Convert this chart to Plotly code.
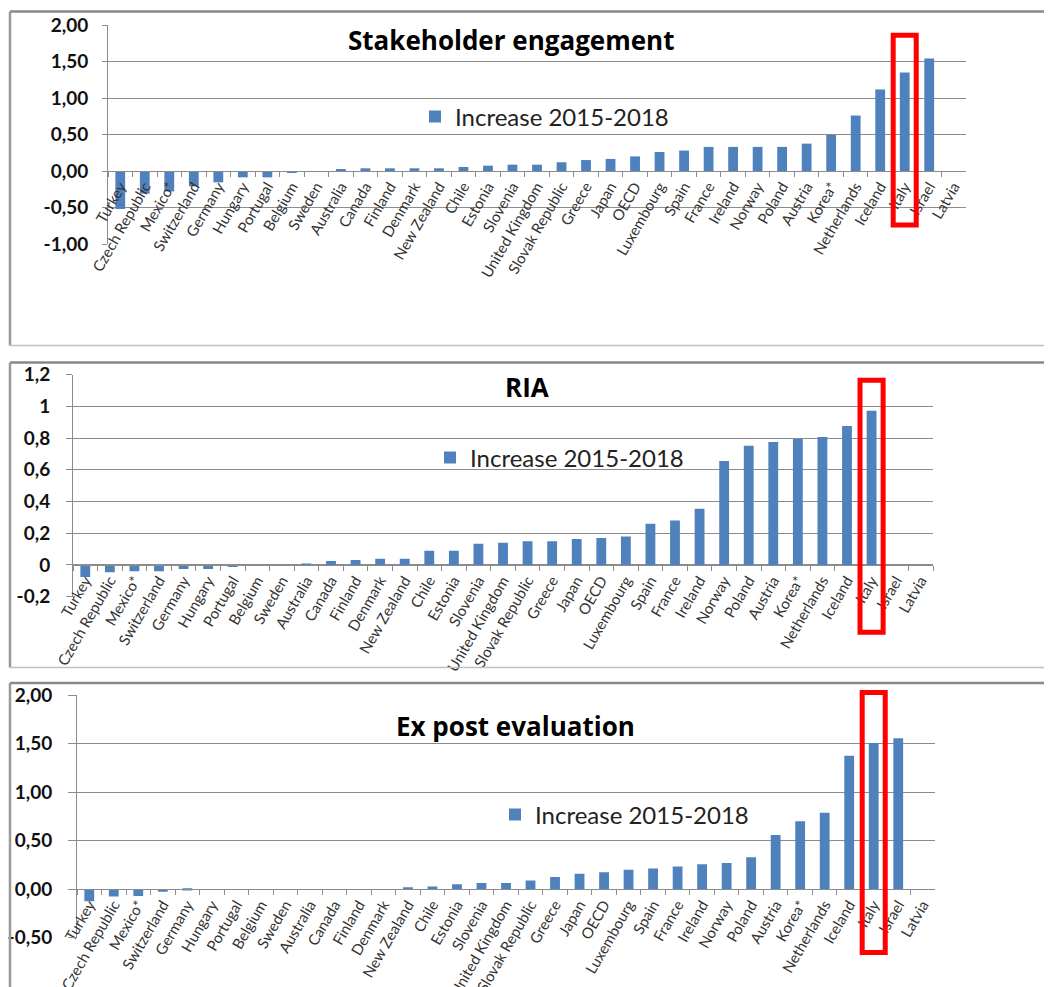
import plotly.graph_objects as go

W, H = 1052, 987
OFF = 8  # default body margin of the html page

countries = [
    "Turkey", "Czech Republic", "Mexico*", "Switzerland", "Germany", "Hungary",
    "Portugal", "Belgium", "Sweden", "Australia", "Canada", "Finland", "Denmark",
    "New Zealand", "Chile", "Estonia", "Slovenia", "United Kingdom",
    "Slovak Republic", "Greece", "Japan", "OECD", "Luxembourg", "Spain", "France",
    "Ireland", "Norway", "Poland", "Austria", "Korea*", "Netherlands", "Iceland",
    "Italy", "Israel", "Latvia",
]

stakeholder_increase = [
    -0.52, -0.31, -0.28, -0.21, -0.155, -0.087, -0.087, -0.023, 0, 0.023, 0.037,
    0.037, 0.037, 0.037, 0.055, 0.073, 0.087, 0.087, 0.12, 0.15, 0.165, 0.2,
    0.26, 0.28, 0.33, 0.33, 0.33, 0.33, 0.375, 0.494, 0.76, 1.117, 1.35, 1.54, None,
]
ria_increase = [
    -0.076, -0.046, -0.04, -0.04, -0.025, -0.025, -0.013, 0, 0, 0.01, 0.025,
    0.032, 0.04, 0.04, 0.09, 0.09, 0.134, 0.14, 0.15, 0.15, 0.164, 0.17, 0.18,
    0.26, 0.28, 0.355, 0.655, 0.752, 0.775, 0.796, 0.807, 0.876, 0.973, None, None,
]
ex_post_increase = [
    -0.124, -0.076, -0.069, -0.027, -0.014, 0, 0, 0, 0, 0, 0, 0, 0, 0.017, 0.027,
    0.052, 0.065, 0.065, 0.089, 0.127, 0.16, 0.175, 0.2, 0.213, 0.234, 0.258,
    0.27, 0.33, 0.558, 0.70, 0.788, 1.377, 1.507, 1.558, None,
]

highlight = "Italy"
legend_label = "Increase 2015-2018"
titles = ["Stakeholder engagement", "RIA", "Ex post evaluation"]

ticks_stakeholder = [-1, -0.5, 0, 0.5, 1, 1.5, 2]
labels_stakeholder = ["-1,00", "-0,50", "0,00", "0,50", "1,00", "1,50", "2,00"]
ticks_ria = [-0.2, 0, 0.2, 0.4, 0.6, 0.8, 1, 1.2]
labels_ria = ["-0,2", "0", "0,2", "0,4", "0,6", "0,8", "1", "1,2"]
ticks_ex_post = [-0.5, 0, 0.5, 1, 1.5, 2]
labels_ex_post = ["-0,50", "0,00", "0,50", "1,00", "1,50", "2,00"]

BAR = "#4F81BD"
GRID = "#8c8c8c"
RED = "#ff0000"
SANS = "Lato, 'Open Sans', sans-serif"
TITLE_FONT = "'Open Sans', Lato, sans-serif"

# pixel layout of each embedded chart (left, right, top, bottom of plot area)
panels = [
    dict(values=stakeholder_increase, tv=ticks_stakeholder, tt=labels_stakeholder,
         plot=(108, 966, 25, 244), frame=(10, 11.5, 345.5), ticklen=5, standoff=10,
         title_at=(511, 40), legend_at=(415, 117), box_y=(-0.74, 1.86)),
    dict(values=ria_increase, tv=ticks_ria, tt=labels_ria,
         plot=(73, 933, 374.7, 596.7), frame=(10, 362.5, 667.5), ticklen=6, standoff=12,
         title_at=(527, 387), legend_at=(430, 458), box_y=(-0.424, 1.165)),
    dict(values=ex_post_increase, tv=ticks_ex_post, tt=labels_ex_post,
         plot=(77, 935, 695.3, 937.7), frame=(10, 683, 1000), ticklen=8, standoff=12,
         title_at=(515, 726), legend_at=(495, 815), box_y=(-0.652, 2.03)),
]


def fx(p):
    return (p - OFF) / W


def fy(p):
    return 1 - (p - OFF) / H


fig = go.Figure()
layout = dict(shapes=[], annotations=[])
n = len(countries)
hi = countries.index(highlight)

for i, p in enumerate(panels, start=1):
    sfx = "" if i == 1 else str(i)
    left, right, top, bottom = p["plot"]
    ymin, ymax = min(p["tv"]), max(p["tv"])
    ydom = [fy(bottom), fy(top)]
    zero_pos = ydom[0] + (0 - ymin) / (ymax - ymin) * (ydom[1] - ydom[0])

    fig.add_trace(go.Bar(
        x=countries, y=p["values"], name=legend_label,
        marker=dict(color=BAR, line=dict(width=0)),
        xaxis="x" + sfx, yaxis="y" + sfx, legend="legend" + sfx,
        showlegend=True,
    ))

    layout["xaxis" + sfx] = dict(
        domain=[fx(left), fx(right)], anchor="free", position=zero_pos,
        type="category", categoryorder="array", categoryarray=countries,
        showline=True, linecolor=GRID, linewidth=1,
        ticks="outside", tickson="boundaries", ticklen=5, tickcolor=GRID,
        tickangle=-60, tickfont=dict(family=SANS, size=15, color="#333"),
        showgrid=False, automargin=False, fixedrange=True,
    )
    layout["yaxis" + sfx] = dict(
        domain=ydom, anchor="x" + sfx, range=[ymin, ymax],
        tickmode="array", tickvals=p["tv"], ticktext=p["tt"],
        showgrid=True, gridcolor=GRID, gridwidth=1, zeroline=False,
        showline=True, linecolor=GRID, linewidth=1,
        ticks="outside", ticklen=p["ticklen"], tickcolor=GRID,
        ticklabelstandoff=p["standoff"],
        tickfont=dict(family=SANS, size=19, color="#111", weight="bold"),
        automargin=False, fixedrange=True,
    )
    lx, ly = p["legend_at"]
    layout["legend" + sfx] = dict(
        x=fx(lx), y=fy(ly), xanchor="left", yanchor="middle",
        bgcolor="rgba(0,0,0,0)", borderwidth=0,
        font=dict(family=SANS, size=24, color="#222"),
    )

    tx, ty = p["title_at"]
    layout["annotations"].append(dict(
        text="<b>" + titles[i - 1] + "</b>", x=fx(tx), y=fy(ty),
        xref="paper", yref="paper", xanchor="center", yanchor="middle",
        showarrow=False, font=dict(family=TITLE_FONT, size=26, color="#000"),
    ))

    # frame of the embedded chart
    fl, ft, fb = p["frame"]
    layout["shapes"] += [
        dict(type="line", xref="paper", yref="paper", x0=fx(fl), x1=1.02,
             y0=fy(ft), y1=fy(ft), line=dict(color="#888", width=2.5)),
        dict(type="line", xref="paper", yref="paper", x0=fx(fl), x1=fx(fl),
             y0=fy(ft), y1=fy(fb), line=dict(color="#999", width=2.5)),
        dict(type="line", xref="paper", yref="paper", x0=fx(fl), x1=1.02,
             y0=fy(fb), y1=fy(fb), line=dict(color="#c0c0c0", width=1.5)),
    ]

    # red highlight box around the highlighted country
    cat_w = (right - left) / n
    cx = left + (hi + 0.5) * cat_w
    b0, b1 = p["box_y"]
    py0 = top + (ymax - b0) / (ymax - ymin) * (bottom - top)
    py1 = top + (ymax - b1) / (ymax - ymin) * (bottom - top)
    layout["shapes"].append(dict(
        type="rect", xref="paper", yref="paper",
        x0=fx(cx - 0.47 * cat_w), x1=fx(cx + 0.47 * cat_w),
        y0=fy(py0), y1=fy(py1), line=dict(color=RED, width=5),
    ))

fig.update_layout(
    template="none", width=W, height=H,
    margin=dict(l=0, r=0, t=0, b=0),
    paper_bgcolor="white", plot_bgcolor="rgba(0,0,0,0)",
    bargap=0.6, **layout,
)

fig.write_html("out.html")
